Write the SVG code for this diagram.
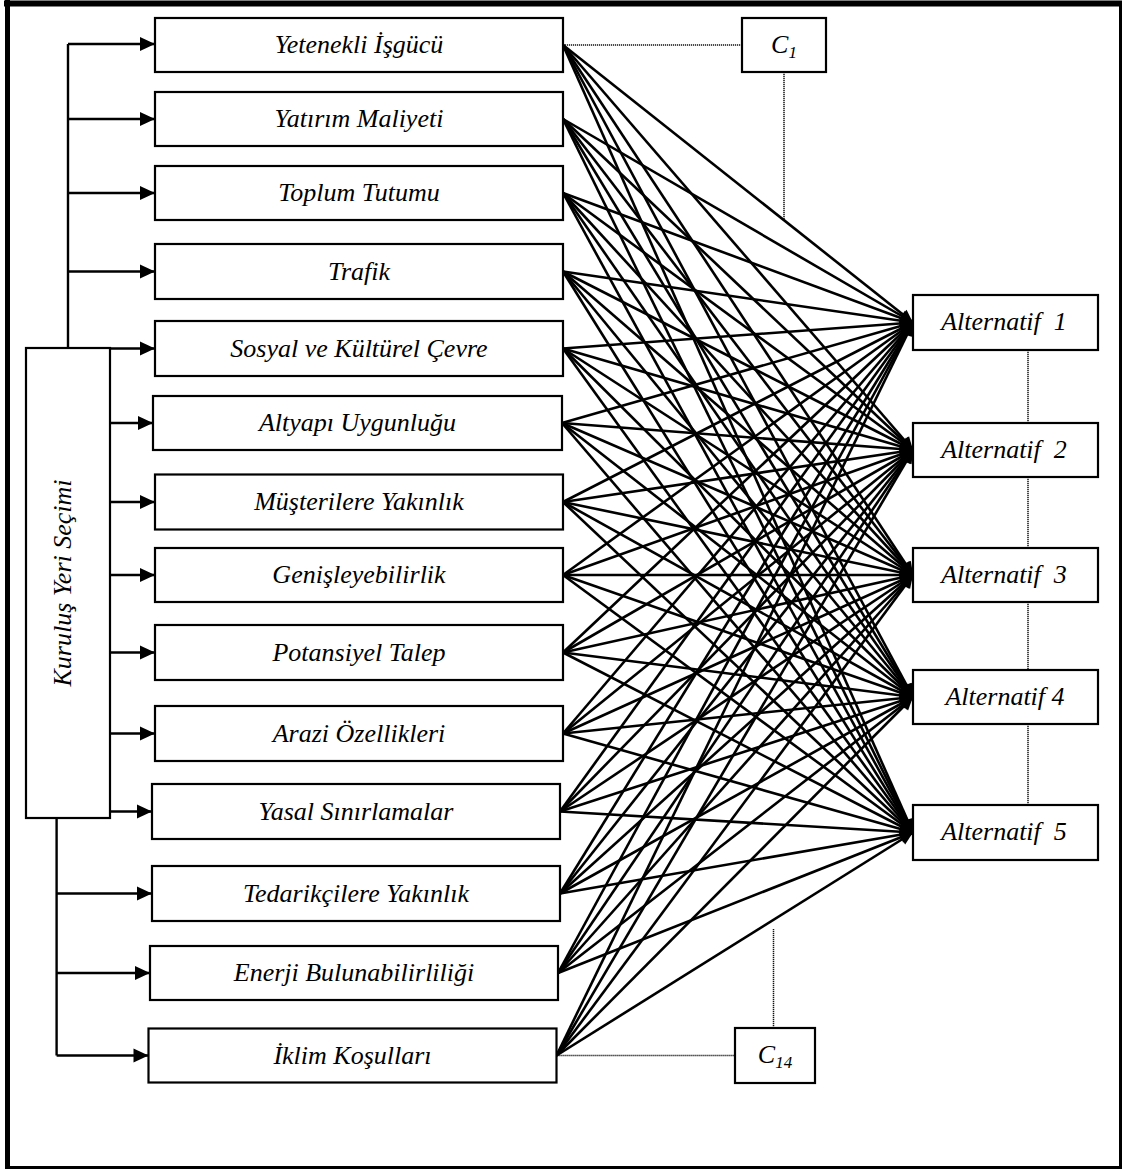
<svg xmlns="http://www.w3.org/2000/svg" width="1123" height="1170" viewBox="0 0 1123 1170">
<style>
text{font-family:"Liberation Serif","Times New Roman",serif;font-style:italic;font-size:26px;fill:#000}
.box{fill:#fff;stroke:#000;stroke-width:2.2}
.lab{text-anchor:middle}
.fan line{stroke:#000;stroke-width:2.6;marker-end:url(#ah)}
.feed{stroke:#000;stroke-width:2.4;fill:none}
.feed line{marker-end:url(#ahl)}
.dot{stroke:#111;stroke-width:1.5;stroke-dasharray:1.2 0.8;fill:none}
</style>
<defs>
<marker id="ah" markerUnits="userSpaceOnUse" markerWidth="15" markerHeight="13" refX="13" refY="6" orient="auto" overflow="visible">
<path d="M0,0 L13,6 L0,12 z" fill="#000"/>
</marker>
<marker id="ahl" markerUnits="userSpaceOnUse" markerWidth="16" markerHeight="15" refX="15" refY="7" orient="auto" overflow="visible">
<path d="M0,0 L15,7 L0,14 z" fill="#000"/>
</marker>
</defs>
<rect x="0" y="0" width="1123" height="1170" fill="#fff"/>
<g id="frame" stroke="#000">
<line x1="4" y1="3.5" x2="1122" y2="3.5" stroke-width="6"/>
<line x1="7.5" y1="0" x2="7.5" y2="1169" stroke-width="5"/>
<line x1="1120.5" y1="1" x2="1120.5" y2="1169" stroke-width="3"/>
<line x1="5" y1="1167.5" x2="1122" y2="1167.5" stroke-width="3"/>
</g>
<g id="connectors">
<g class="feed">
<path d="M68,44 V348"/>
<path d="M56.6,818 V1055.5"/>
<line x1="68" y1="44" x2="155" y2="44"/>
<line x1="68" y1="119" x2="155" y2="119"/>
<line x1="68" y1="193" x2="155" y2="193"/>
<line x1="68" y1="271.5" x2="155" y2="271.5"/>
<line x1="110" y1="348.5" x2="155" y2="348.5"/>
<line x1="110" y1="423" x2="153" y2="423"/>
<line x1="110" y1="502" x2="155" y2="502"/>
<line x1="110" y1="575" x2="155" y2="575"/>
<line x1="110" y1="652.5" x2="155" y2="652.5"/>
<line x1="110" y1="733.5" x2="155" y2="733.5"/>
<line x1="110" y1="811.5" x2="152" y2="811.5"/>
<line x1="56.6" y1="893.5" x2="152" y2="893.5"/>
<line x1="56.6" y1="973" x2="150" y2="973"/>
<line x1="56.6" y1="1055.5" x2="148.5" y2="1055.5"/>
</g>
<g class="dot">
<path d="M563,45 H742"/>
<path d="M784,72 V220"/>
<path d="M556.5,1055.5 H735"/>
<path d="M773.5,929 V1028"/>
<path d="M1028,350 V423"/>
<path d="M1028,477 V548"/>
<path d="M1028,602 V670"/>
<path d="M1028,724 V805"/>
</g>
<g class="fan">
<line x1="563" y1="45" x2="913" y2="322.5"/><line x1="563" y1="45" x2="913" y2="450"/><line x1="563" y1="45" x2="913" y2="575"/><line x1="563" y1="45" x2="913" y2="697"/><line x1="563" y1="45" x2="913" y2="832.5"/>
<line x1="563" y1="119" x2="913" y2="322.5"/><line x1="563" y1="119" x2="913" y2="450"/><line x1="563" y1="119" x2="913" y2="575"/><line x1="563" y1="119" x2="913" y2="697"/><line x1="563" y1="119" x2="913" y2="832.5"/>
<line x1="563" y1="193" x2="913" y2="322.5"/><line x1="563" y1="193" x2="913" y2="450"/><line x1="563" y1="193" x2="913" y2="575"/><line x1="563" y1="193" x2="913" y2="697"/><line x1="563" y1="193" x2="913" y2="832.5"/>
<line x1="563" y1="271.5" x2="913" y2="322.5"/><line x1="563" y1="271.5" x2="913" y2="450"/><line x1="563" y1="271.5" x2="913" y2="575"/><line x1="563" y1="271.5" x2="913" y2="697"/><line x1="563" y1="271.5" x2="913" y2="832.5"/>
<line x1="563" y1="348.5" x2="913" y2="322.5"/><line x1="563" y1="348.5" x2="913" y2="450"/><line x1="563" y1="348.5" x2="913" y2="575"/><line x1="563" y1="348.5" x2="913" y2="697"/><line x1="563" y1="348.5" x2="913" y2="832.5"/>
<line x1="562" y1="423" x2="913" y2="322.5"/><line x1="562" y1="423" x2="913" y2="450"/><line x1="562" y1="423" x2="913" y2="575"/><line x1="562" y1="423" x2="913" y2="697"/><line x1="562" y1="423" x2="913" y2="832.5"/>
<line x1="563" y1="502" x2="913" y2="322.5"/><line x1="563" y1="502" x2="913" y2="450"/><line x1="563" y1="502" x2="913" y2="575"/><line x1="563" y1="502" x2="913" y2="697"/><line x1="563" y1="502" x2="913" y2="832.5"/>
<line x1="563" y1="575" x2="913" y2="322.5"/><line x1="563" y1="575" x2="913" y2="450"/><line x1="563" y1="575" x2="913" y2="575"/><line x1="563" y1="575" x2="913" y2="697"/><line x1="563" y1="575" x2="913" y2="832.5"/>
<line x1="563" y1="652.5" x2="913" y2="322.5"/><line x1="563" y1="652.5" x2="913" y2="450"/><line x1="563" y1="652.5" x2="913" y2="575"/><line x1="563" y1="652.5" x2="913" y2="697"/><line x1="563" y1="652.5" x2="913" y2="832.5"/>
<line x1="563" y1="733.5" x2="913" y2="322.5"/><line x1="563" y1="733.5" x2="913" y2="450"/><line x1="563" y1="733.5" x2="913" y2="575"/><line x1="563" y1="733.5" x2="913" y2="697"/><line x1="563" y1="733.5" x2="913" y2="832.5"/>
<line x1="560" y1="811.5" x2="913" y2="322.5"/><line x1="560" y1="811.5" x2="913" y2="450"/><line x1="560" y1="811.5" x2="913" y2="575"/><line x1="560" y1="811.5" x2="913" y2="697"/><line x1="560" y1="811.5" x2="913" y2="832.5"/>
<line x1="560" y1="893.5" x2="913" y2="322.5"/><line x1="560" y1="893.5" x2="913" y2="450"/><line x1="560" y1="893.5" x2="913" y2="575"/><line x1="560" y1="893.5" x2="913" y2="697"/><line x1="560" y1="893.5" x2="913" y2="832.5"/>
<line x1="558" y1="973" x2="913" y2="322.5"/><line x1="558" y1="973" x2="913" y2="450"/><line x1="558" y1="973" x2="913" y2="575"/><line x1="558" y1="973" x2="913" y2="697"/><line x1="558" y1="973" x2="913" y2="832.5"/>
<line x1="556.5" y1="1055.5" x2="913" y2="322.5"/><line x1="556.5" y1="1055.5" x2="913" y2="450"/><line x1="556.5" y1="1055.5" x2="913" y2="575"/><line x1="556.5" y1="1055.5" x2="913" y2="697"/><line x1="556.5" y1="1055.5" x2="913" y2="832.5"/>
</g>
</g>
<g id="root"><rect class="box" x="26" y="348" width="84" height="470"/><text class="lab" transform="translate(70.5,583) rotate(-90)">Kuruluş Yeri Seçimi</text></g>
<g id="c01"><rect class="box" x="155" y="18" width="408" height="54"/><text class="lab" x="359" y="53">Yetenekli İşgücü</text></g>
<g id="c02"><rect class="box" x="155" y="92" width="408" height="54"/><text class="lab" x="359" y="127">Yatırım Maliyeti</text></g>
<g id="c03"><rect class="box" x="155" y="166" width="408" height="54"/><text class="lab" x="359" y="201">Toplum Tutumu</text></g>
<g id="c04"><rect class="box" x="155" y="244" width="408" height="55"/><text class="lab" x="359" y="279.5">Trafik</text></g>
<g id="c05"><rect class="box" x="155" y="321" width="408" height="55"/><text class="lab" x="359" y="356.5">Sosyal ve Kültürel Çevre</text></g>
<g id="c06"><rect class="box" x="153" y="396" width="409" height="54"/><text class="lab" x="357.5" y="431">Altyapı Uygunluğu</text></g>
<g id="c07"><rect class="box" x="155" y="474.5" width="408" height="55"/><text class="lab" x="359" y="510">Müşterilere Yakınlık</text></g>
<g id="c08"><rect class="box" x="155" y="548" width="408" height="54"/><text class="lab" x="359" y="583">Genişleyebilirlik</text></g>
<g id="c09"><rect class="box" x="155" y="625" width="408" height="55"/><text class="lab" x="359" y="660.5">Potansiyel Talep</text></g>
<g id="c10"><rect class="box" x="155" y="706" width="408" height="55"/><text class="lab" x="359" y="741.5">Arazi Özellikleri</text></g>
<g id="c11"><rect class="box" x="152" y="784" width="408" height="55"/><text class="lab" x="356" y="819.5">Yasal Sınırlamalar</text></g>
<g id="c12"><rect class="box" x="152" y="866" width="408" height="55"/><text class="lab" x="356" y="901.5">Tedarikçilere Yakınlık</text></g>
<g id="c13"><rect class="box" x="150" y="946" width="408" height="54"/><text class="lab" x="354" y="981">Enerji Bulunabilirliliği</text></g>
<g id="c14"><rect class="box" x="148.5" y="1028.5" width="408" height="54"/><text class="lab" x="352.5" y="1063.5">İklim Koşulları</text></g>
<g id="C1"><rect class="box" x="742" y="18" width="84" height="54"/><text class="lab" x="784" y="53">C<tspan font-size="17" dy="5">1</tspan></text></g>
<g id="C14"><rect class="box" x="735" y="1028" width="80" height="55"/><text class="lab" x="775" y="1063">C<tspan font-size="17" dy="5">14</tspan></text></g>
<g id="a1"><rect class="box" x="913" y="295" width="185" height="55"/><text class="lab" x="1004" y="330" xml:space="preserve">Alternatif  1</text></g>
<g id="a2"><rect class="box" x="913" y="423" width="185" height="54"/><text class="lab" x="1004" y="458" xml:space="preserve">Alternatif  2</text></g>
<g id="a3"><rect class="box" x="913" y="548" width="185" height="54"/><text class="lab" x="1004" y="583" xml:space="preserve">Alternatif  3</text></g>
<g id="a4"><rect class="box" x="913" y="670" width="185" height="54"/><text class="lab" x="1005" y="705">Alternatif 4</text></g>
<g id="a5"><rect class="box" x="913" y="805" width="185" height="55"/><text class="lab" x="1004" y="840" xml:space="preserve">Alternatif  5</text></g>
</svg>
